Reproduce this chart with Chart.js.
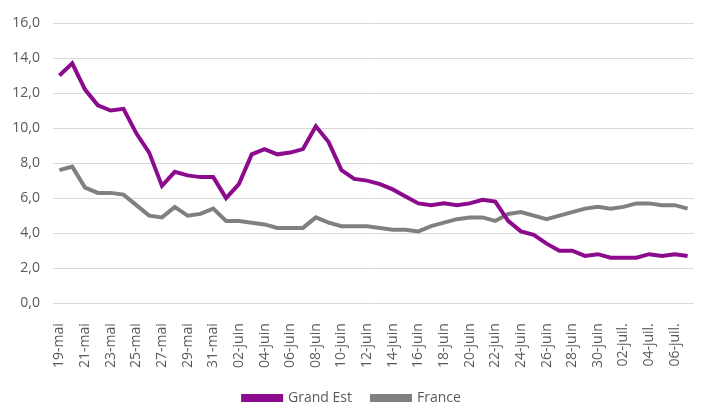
<!DOCTYPE html>
<html>
<head>
<meta charset="utf-8">
<script src="https://cdn.jsdelivr.net/npm/chart.js@4"></script>
<style>
  body { margin: 0; background: #fff; }
  #wrap { width: 708px; height: 419px; }
</style>
</head>
<body>
<div id="wrap"><canvas id="myChart"></canvas></div>
<script>
// days from 19-mai to 07-juil.
const dates = [
  '19-mai', '20-mai', '21-mai', '22-mai', '23-mai', '24-mai', '25-mai', '26-mai', '27-mai', '28-mai',
  '29-mai', '30-mai', '31-mai', '01-juin', '02-juin', '03-juin', '04-juin', '05-juin', '06-juin', '07-juin',
  '08-juin', '09-juin', '10-juin', '11-juin', '12-juin', '13-juin', '14-juin', '15-juin', '16-juin', '17-juin',
  '18-juin', '19-juin', '20-juin', '21-juin', '22-juin', '23-juin', '24-juin', '25-juin', '26-juin', '27-juin',
  '28-juin', '29-juin', '30-juin', '01-juil.', '02-juil.', '03-juil.', '04-juil.', '05-juil.', '06-juil.', '07-juil.'
];

const grandEst = [
  13.0, 13.7, 12.2, 11.3, 11.0, 11.1, 9.7, 8.6, 6.7, 7.5,
  7.3, 7.2, 7.2, 6.0, 6.8, 8.5, 8.8, 8.5, 8.6, 8.8,
  10.1, 9.2, 7.6, 7.1, 7.0, 6.8, 6.5, 6.1, 5.7, 5.6,
  5.7, 5.6, 5.7, 5.9, 5.8, 4.7, 4.1, 3.9, 3.4, 3.0,
  3.0, 2.7, 2.8, 2.6, 2.6, 2.6, 2.8, 2.7, 2.8, 2.7
];

const france = [
  7.6, 7.8, 6.6, 6.3, 6.3, 6.2, 5.6, 5.0, 4.9, 5.5,
  5.0, 5.1, 5.4, 4.7, 4.7, 4.6, 4.5, 4.3, 4.3, 4.3,
  4.9, 4.6, 4.4, 4.4, 4.4, 4.3, 4.2, 4.2, 4.1, 4.4,
  4.6, 4.8, 4.9, 4.9, 4.7, 5.1, 5.2, 5.0, 4.8, 5.0,
  5.2, 5.4, 5.5, 5.4, 5.5, 5.7, 5.7, 5.6, 5.6, 5.4
];

const yTicks = [0, 2, 4, 6, 8, 10, 12, 14, 16];

const txt = '#595959';
const ctx = document.getElementById('myChart');

new Chart(ctx, {
  type: 'line',
  data: {
    labels: dates,
    datasets: [
      {
        label: 'Grand Est',
        data: grandEst,
        borderColor: '#8C0A8C',
        backgroundColor: '#8C0A8C',
        borderWidth: 4,
        pointRadius: 0,
        tension: 0
      },
      {
        label: 'France',
        data: france,
        borderColor: '#808080',
        backgroundColor: '#808080',
        borderWidth: 4,
        pointRadius: 0,
        tension: 0
      }
    ]
  },
  options: {
    responsive: true,
    maintainAspectRatio: false,
    animation: false,
    layout: { padding: { top: 23, right: 14, left: 10, bottom: 4 } },
    plugins: {
      tooltip: { enabled: false },
      legend: {
        position: 'bottom',
        labels: {
          color: txt,
          font: { family: 'Open Sans', size: 14 },
          boxWidth: 38,
          boxHeight: 4,
          padding: 20
        }
      }
    },
    scales: {
      x: {
        offset: true,
        grid: { display: false },
        border: { display: false },
        afterFit: axis => {
          axis.height = axis.height - 9;
          axis.paddingLeft = 0;
          axis.paddingRight = 0;
        },
        ticks: {
          color: txt,
          font: { family: 'Open Sans', size: 14 },
          autoSkip: false,
          minRotation: 90,
          maxRotation: 90,
          padding: 12,
          callback: (v, i) => (i % 2 === 0 ? dates[i] : '')
        }
      },
      y: {
        min: 0,
        max: 16,
        afterBuildTicks: axis => { axis.ticks = yTicks.map(v => ({ value: v })); },
        afterFit: axis => { axis.width = 43; },
        grid: { color: '#d9d9d9', lineWidth: 1, drawTicks: false },
        border: { display: false },
        ticks: {
          color: txt,
          font: { family: 'Open Sans', size: 14 },
          padding: 13,
          callback: v => v.toFixed(1).replace('.', ',')
        }
      }
    }
  }
});
</script>
</body>
</html>
